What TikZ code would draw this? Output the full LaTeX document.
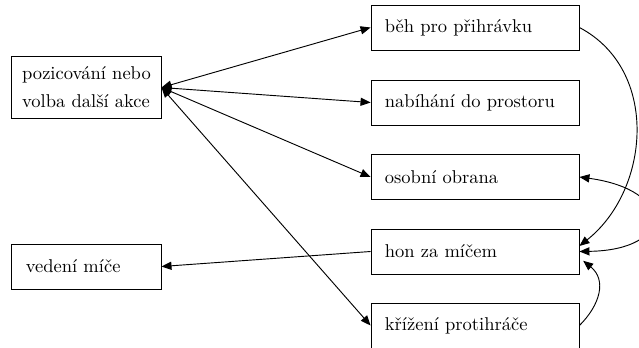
\documentclass[tikz,border=0pt]{standalone}
\usetikzlibrary{arrows.meta}
\begin{document}
\begin{tikzpicture}[x=0.54pt,y=-0.54pt,
  box/.style={draw,line width=0.5pt,rectangle,minimum height=24.3pt,inner xsep=7.5pt,inner ysep=0pt,align=left,font=\fontsize{10}{15}\selectfont},
  rbox/.style={box,text width=97.3pt},
  lbox/.style={box,text width=65.5pt},
  arr/.style={line width=0.5pt,-{Triangle[length=5.4pt,width=4.4pt]}},
  darr/.style={line width=0.5pt,{Triangle[length=5.4pt,width=4.4pt]}-{Triangle[length=5.4pt,width=4.4pt]}}]
\useasboundingbox (0,0) rectangle (639,347);
\node[box,inner xsep=5pt,minimum width=80.5pt,minimum height=33pt] (L) at (86.5,87.5) {pozicování nebo\\volba další akce};
\node[lbox] (V) at (86.5,266.5) {vedení míče};
\node[rbox] (B) at (475,27.5) {běh pro přihrávku};
\node[rbox] (N) at (475,102.5) {nabíhání do prostoru};
\node[rbox] (O) at (475,177) {osobní obrana};
\node[rbox] (H) at (475,251.5) {hon za míčem};
\node[rbox] (K) at (475,325.5) {křížení protihráče};
\draw[darr] (L.east) -- (B.west);
\draw[darr] (L.east) -- (N.west);
\draw[darr] (L.east) -- (O.west);
\draw[darr] (L.east) -- (K.west);
\draw[arr] (H.west) -- (V.east);
\draw[arr] (B.east) .. controls (660,70) and (650,190) .. ([yshift=3pt]H.east);
\draw[darr] (O.east) .. controls (675,190) and (675,250) .. (H.east);
\draw[arr] (K.east) .. controls (600,305) and (607,280) .. ([xshift=2pt,yshift=-5pt]H.east);
\end{tikzpicture}
\end{document}
